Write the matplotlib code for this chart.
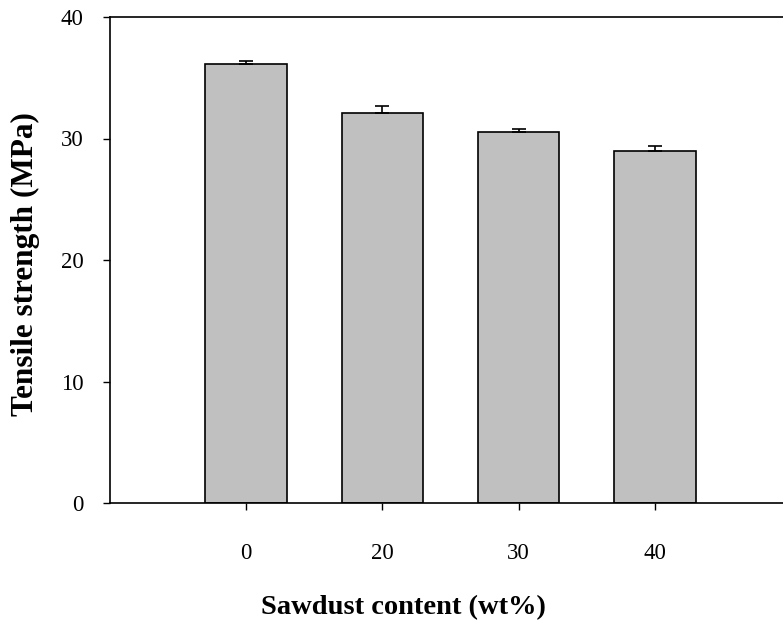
import matplotlib
matplotlib.use("Agg")
import matplotlib.pyplot as plt

categories = ["0", "20", "30", "40"]
tensile = [36.1, 32.1, 30.5, 29.0]
errors = [0.25, 0.6, 0.3, 0.35]
yticks = [0, 10, 20, 30, 40]

plt.rcParams['font.family'] = ['Liberation Serif', 'DejaVu Serif']

W, H = 783, 624
fig = plt.figure(figsize=(W / 100, H / 100), dpi=100)
left_px, right_px = 110, 791
top_px, bot_px = 17, 503
ax = fig.add_axes([left_px / W, 1 - bot_px / H, (right_px - left_px) / W, (bot_px - top_px) / H])

pos = [1, 2, 3, 4]
ax.bar(pos, tensile, width=0.6, color="#c0c0c0", edgecolor="black", linewidth=1.2, zorder=2)
ax.errorbar(pos, tensile, yerr=[[0] * len(errors), errors], fmt="none", ecolor="black",
            elinewidth=1.2, capsize=5, capthick=1.2, zorder=3)

ax.set_xlim(0, 5.0)
ax.set_ylim(0, 40)
ax.set_xticks(pos)
ax.set_xticklabels(categories)
ax.set_yticks(yticks)
ax.tick_params(axis="both", direction="out", length=5, width=1, labelsize=16.5)
ax.tick_params(axis="x", pad=24)
ax.tick_params(axis="y", pad=14)
for s in ax.spines.values():
    s.set_linewidth(1.2)

ax.set_xlabel("Sawdust content (wt%)", fontsize=20.5, fontweight="bold")
ax.set_ylabel("Tensile strength (MPa)", fontsize=22.5, fontweight="bold")
ax.xaxis.set_label_coords((403 - left_px) / (right_px - left_px), -(608 - bot_px) / (bot_px - top_px))
ax.xaxis.label.set_va("center")
ax.yaxis.set_label_coords(-(left_px - 25) / (right_px - left_px), (bot_px - 264) / (bot_px - top_px))
ax.yaxis.label.set_va("center")

fig.savefig("out.png", dpi=100)
